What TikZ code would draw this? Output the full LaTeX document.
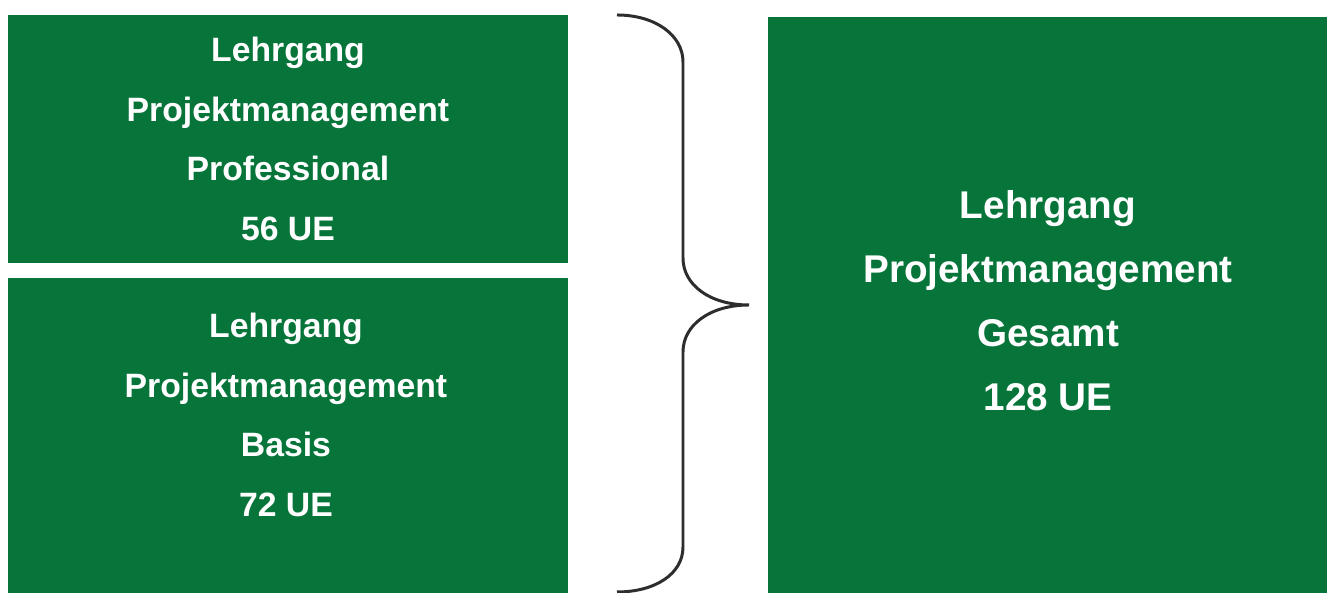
\documentclass[tikz,border=0pt]{standalone}
\usepackage{fontspec}
\setmainfont{Liberation Sans}
\usepackage{tikz}

\definecolor{lgreen}{RGB}{7,117,58}
\definecolor{bracegray}{RGB}{45,45,45}

\tikzset{
  panel/.style={fill=lgreen, draw=none, inner sep=0pt, text=white, align=center,
    font=\fontsize{9.6}{17}\selectfont\bfseries},
  paneltext/.style={text=white, align=center, inner sep=0pt,
    font=\fontsize{9.6}{17}\selectfont\bfseries},
  bigtext/.style={paneltext, font=\fontsize{11}{18.2}\selectfont\bfseries},
}

\begin{document}
\begin{tikzpicture}
    \useasboundingbox (0,0) rectangle (13.27,-5.93);
    \fill[white] (0,0) rectangle (13.27,-5.93);

    % left column
    \node[panel, minimum width=5.60cm, minimum height=2.48cm] (prof) at (2.88,-1.39)
      {Lehrgang\\Projektmanagement\\Professional\\56 UE};
    \node[panel, minimum width=5.60cm, minimum height=3.25cm] (basisbox) at (2.88,-4.405) {};
    \node[paneltext] (basis) at (2.86,-4.15)
      {Lehrgang\\Projektmanagement\\Basis\\72 UE};

    % right block
    \node[panel, minimum width=5.65cm, minimum height=5.86cm] (gesamtbox) at (10.505,-3.10) {};
    \node[bigtext] (gesamt) at (10.48,-3.01)
      {Lehrgang\\Projektmanagement\\Gesamt\\128 UE};

    % curly brace
    \coordinate (btop) at (6.17,-0.15);
    \coordinate (btip) at (7.49,-3.05);
    \coordinate (bbot) at (6.17,-5.92);
    \draw[bracegray, line width=0.85pt]
      (btop) .. controls (6.55,-0.15) and (6.83,-0.35) .. (6.83,-0.62)
      -- (6.83,-2.58)
      .. controls (6.83,-2.85) and (7.10,-3.05) .. (btip)
      .. controls (7.10,-3.05) and (6.83,-3.25) .. (6.83,-3.52)
      -- (6.83,-5.47)
      .. controls (6.83,-5.74) and (6.55,-5.92) .. (bbot);
\end{tikzpicture}
\end{document}
